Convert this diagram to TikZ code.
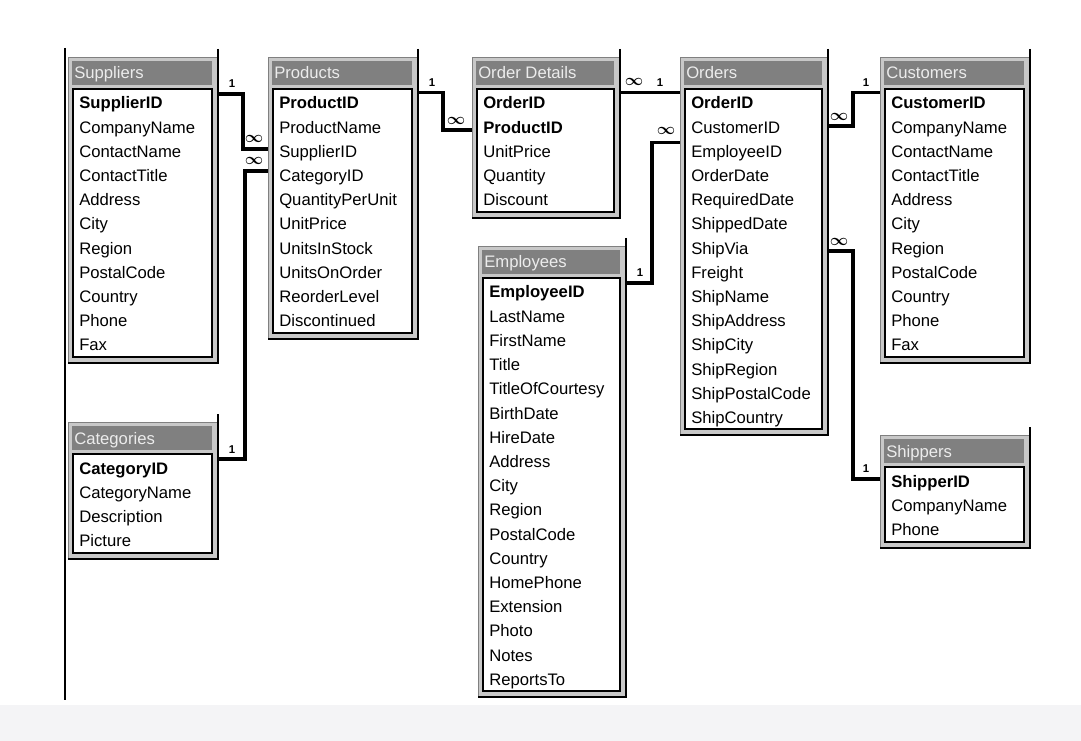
\documentclass[tikz,border=0pt]{standalone}
\usepackage{fontspec}
\setmainfont{Liberation Sans}
\usetikzlibrary{calc}
\definecolor{bargray}{RGB}{128,128,128}
\definecolor{framegray}{RGB}{200,200,200}
\definecolor{bandgray}{RGB}{244,244,246}
\tikzset{
  tblframe/.style={draw=gray,fill=framegray,inner sep=0pt,outer sep=0pt},
  field/.style={anchor=base west,inner sep=0pt,font=\fontsize{12.5}{13}\selectfont},
  ttl/.style={anchor=base west,inner sep=0pt,text=white!85!gray,font=\fontsize{12.5}{13}\selectfont},
  rel/.style={line width=2.8pt},
  card/.style={inner sep=0pt,font=\bfseries\fontsize{8.5}{8.5}\selectfont},
  many/.style={inner sep=0pt,font=\boldmath\fontsize{13}{13}\selectfont}
}
% #1 name, #2 x, #3 y, #4 width, #5 height, #6 title, #7 fields
\newcommand\dbtable[7]{%
  \node[tblframe,minimum width=#4*0.75pt,minimum height=#5*0.75pt,anchor=north west] (#1) at (#2,#3) {};
  \fill[bargray] (#2+4,#3+4) rectangle (#2+#4-6,#3+28);
  \node[ttl] (#1-title) at (#2+6,#3+22) {#6};
  \draw[fill=white,line width=1pt] (#2+5,#3+32) rectangle (#2+#4-6,#3+#5-6);
  \draw[line width=1.8pt] (#2+#4,#3-8) -- (#2+#4,#3+#5) -- (#2,#3+#5);
  \foreach \r [count=\i] in {#7}
    \node[field] (#1-\i) at (#2+11,#3+52+\i*24.2-24.2) {\r};
}
\begin{document}
\begin{tikzpicture}[x=0.75pt,y=-0.75pt]
\useasboundingbox (0,0) rectangle (1081,741);
\fill[bandgray] (0,705) rectangle (1081,741);
\draw[line width=1.3pt] (65,48) -- (65,700);

\dbtable{S}{68}{57}{150}{306}{Suppliers}{\textbf{SupplierID},CompanyName,ContactName,ContactTitle,Address,City,Region,PostalCode,Country,Phone,Fax}
\dbtable{P}{268}{57}{150}{282}{Products}{\textbf{ProductID},ProductName,SupplierID,CategoryID,QuantityPerUnit,UnitPrice,UnitsInStock,UnitsOnOrder,ReorderLevel,Discontinued}
\dbtable{D}{472}{57}{148}{161}{Order Details}{\textbf{OrderID},\textbf{ProductID},UnitPrice,Quantity,Discount}
\dbtable{O}{680}{57}{148}{378}{Orders}{\textbf{OrderID},CustomerID,EmployeeID,OrderDate,RequiredDate,ShippedDate,ShipVia,Freight,ShipName,ShipAddress,ShipCity,ShipRegion,ShipPostalCode,ShipCountry}
\dbtable{C}{880}{57}{150}{306}{Customers}{\textbf{CustomerID},CompanyName,ContactName,ContactTitle,Address,City,Region,PostalCode,Country,Phone,Fax}
\dbtable{G}{68}{422}{150}{137}{Categories}{\textbf{CategoryID},CategoryName,Description,Picture}
\dbtable{E}{478}{246}{148}{451}{Employees}{\textbf{EmployeeID},LastName,FirstName,Title,TitleOfCourtesy,BirthDate,HireDate,Address,City,Region,PostalCode,Country,HomePhone,Extension,Photo,Notes,ReportsTo}
\dbtable{H}{880}{435}{150}{113}{Shippers}{\textbf{ShipperID},CompanyName,Phone}

% relationships
\coordinate (sp1) at ([yshift=8pt]S-1 -| S.east);
\coordinate (sp2) at ([yshift=3pt]P-3 -| P.west);
\draw[rel] (sp1) -- ++(25,0) |- (sp2);
\node[card] (sp1l) at ($(sp1)+(14,-10)$) {1};
\node[many] (sp2l) at ($(sp2)+(-14,-10)$) {$\infty$};

\coordinate (gp1) at ([yshift=8pt]G-1 -| G.east);
\coordinate (gp2) at ([yshift=5pt]P-4 -| P.west);
\draw[rel] (gp1) -- ++(27,0) |- (gp2);
\node[card] (gp1l) at ($(gp1)+(14,-10)$) {1};
\node[many] (gp2l) at ($(gp2)+(-14,-10)$) {$\infty$};

\coordinate (pd1) at ([yshift=8pt]P-1 -| P.east);
\coordinate (pd2) at ([yshift=-2pt]D-2 -| D.west);
\draw[rel] (pd1) -- ++(25,0) |- (pd2);
\node[card] (pd1l) at ($(pd1)+(14,-10)$) {1};
\node[many] (pd2l) at ($(pd2)+(-16,-9)$) {$\infty$};

\coordinate (do1) at ([yshift=8pt]D-1 -| D.east);
\coordinate (do2) at ([yshift=8pt]O-1 -| O.west);
\draw[rel] (do1) -- (do2);
\node[many] (do1l) at ($(do1)+(14,-10)$) {$\infty$};
\node[card] (do2l) at ($(do2)+(-20,-10)$) {1};

\coordinate (eo1) at ([yshift=8pt]E-1 -| E.east);
\coordinate (eo2) at ([yshift=8pt]O-3 -| O.west);
\draw[rel] (eo1) -- ++(26,0) |- (eo2);
\node[card] (eo1l) at ($(eo1)+(14,-10)$) {1};
\node[many] (eo2l) at ($(eo2)+(-14,-11)$) {$\infty$};

\coordinate (oc1) at ([yshift=1pt]O-2 -| O.east);
\coordinate (oc2) at ([yshift=8pt]C-1 -| C.west);
\draw[rel] (oc1) -- ++(25,0) |- (oc2);
\node[many] (oc1l) at ($(oc1)+(11,-9)$) {$\infty$};
\node[card] (oc2l) at ($(oc2)+(-14,-10)$) {1};

\coordinate (oh1) at ([yshift=-1pt]O-7 -| O.east);
\coordinate (oh2) at ([yshift=3pt]H-1 -| H.west);
\draw[rel] (oh1) -- ++(25,0) |- (oh2);
\node[many] (oh1l) at ($(oh1)+(11,-9)$) {$\infty$};
\node[card] (oh2l) at ($(oh2)+(-14,-10)$) {1};
\end{tikzpicture}
\end{document}
